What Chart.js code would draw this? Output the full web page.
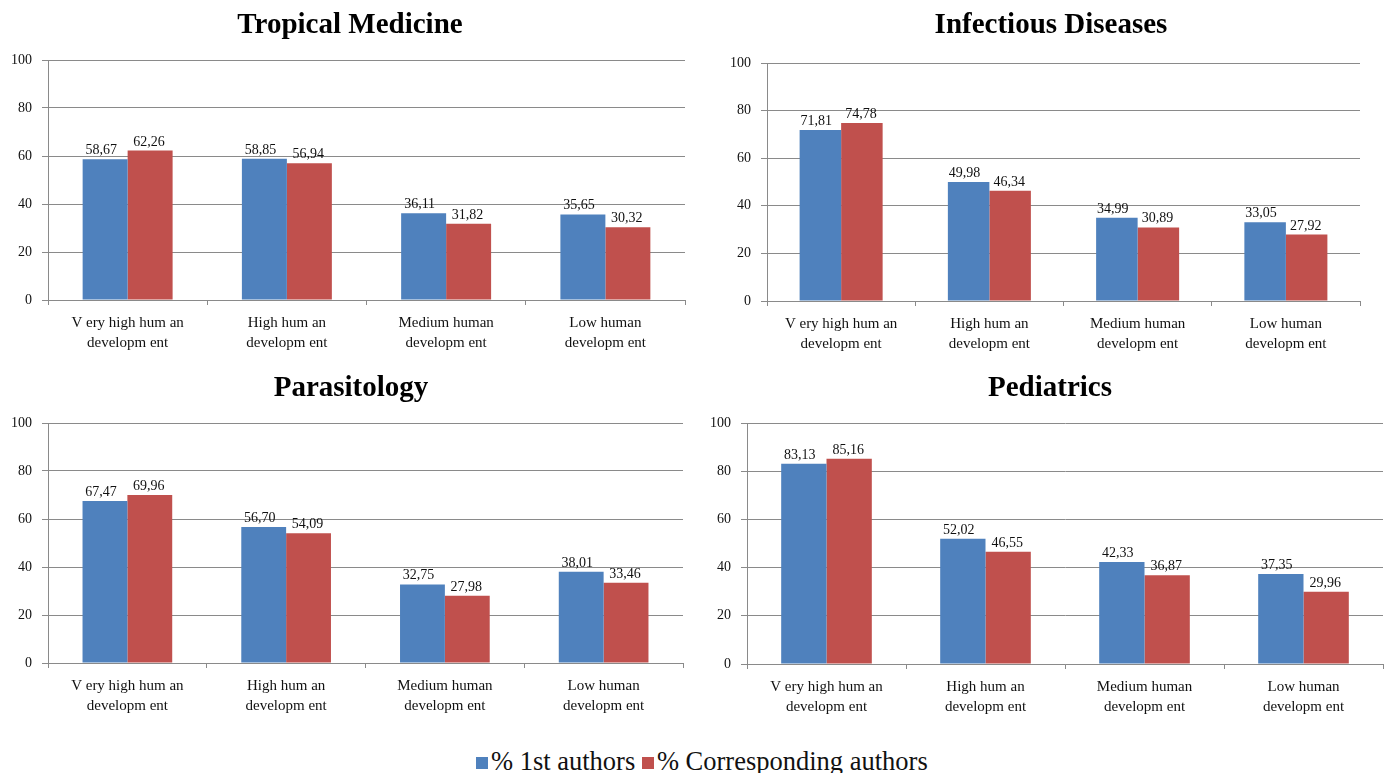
<!DOCTYPE html>
<html>
<head>
<meta charset="utf-8">
<script src="https://cdn.jsdelivr.net/npm/chart.js@4/dist/chart.umd.min.js"></script>
<style>
  html, body { margin: 0; padding: 0; background: #fff; }
  body { width: 1388px; height: 773px; position: relative; overflow: hidden; }
  canvas { position: absolute; }
  #legend { position: absolute; left: 476px; top: 746px; font-family: "Liberation Serif", serif; font-size: 26.5px; line-height: 30px; color: #111; white-space: nowrap; }
  #legend span.sw { display: inline-block; width: 12px; height: 12px; margin-right: 3px; vertical-align: 1px; }
</style>
</head>
<body>
<canvas id="c1"></canvas>
<canvas id="c2"></canvas>
<canvas id="c3"></canvas>
<canvas id="c4"></canvas>
<div id="legend"><span class="sw" style="background:#4F81BD"></span>% 1st authors <span class="sw" style="background:#C0504D"></span>% Corresponding authors</div>
<script>
// ---- data ----
const categories = [
  ['V ery high hum an', 'developm ent'],
  ['High hum an', 'developm ent'],
  ['Medium human', 'developm ent'],
  ['Low human', 'developm ent']
];
const seriesNames = ['% 1st authors', '% Corresponding authors'];
const yTickValues = [0, 20, 40, 60, 80, 100];

const tropicalFirst = [58.67, 58.85, 36.11, 35.65];
const tropicalCorr  = [62.26, 56.94, 31.82, 30.32];
const infectiousFirst = [71.81, 49.98, 34.99, 33.05];
const infectiousCorr  = [74.78, 46.34, 30.89, 27.92];
const parasitFirst = [67.47, 56.70, 32.75, 38.01];
const parasitCorr  = [69.96, 54.09, 27.98, 33.46];
const pediatricsFirst = [83.13, 52.02, 42.33, 37.35];
const pediatricsCorr  = [85.16, 46.55, 36.87, 29.96];

// ---- styling ----
const BLUE = '#4F81BD', RED = '#C0504D', GRID = '#8a8a8a';
const SERIF = '"Liberation Serif", "Times New Roman", serif';

const panelTitle = {
  id: 'panelTitle',
  afterDraw(chart, args, opts) {
    const ctx = chart.ctx;
    ctx.save();
    ctx.font = 'bold 29px ' + SERIF;
    ctx.fillStyle = '#000';
    ctx.textAlign = 'center';
    ctx.textBaseline = 'alphabetic';
    ctx.fillText(opts.text, opts.x, opts.y);
    ctx.restore();
  }
};

const barValues = {
  id: 'barValues',
  afterDatasetsDraw(chart) {
    const ctx = chart.ctx;
    ctx.save();
    ctx.font = '14px ' + SERIF;
    ctx.fillStyle = '#111';
    ctx.textAlign = 'center';
    ctx.textBaseline = 'alphabetic';
    chart.data.datasets.forEach((ds, i) => {
      chart.getDatasetMeta(i).data.forEach((bar, j) => {
        const txt = ds.data[j].toFixed(2).replace('.', ',');
        ctx.fillText(txt, bar.x - (i === 0 ? 4 : 1), bar.y - 5);
      });
    });
    ctx.restore();
  }
};

function makePanel(id, pos, title, first, corr) {
  const cv = document.getElementById(id);
  cv.style.left = pos.left + 'px';
  cv.style.top = pos.top + 'px';
  cv.width = pos.width;
  cv.height = pos.height;
  new Chart(cv, {
    type: 'bar',
    data: {
      labels: categories,
      datasets: [
        { label: seriesNames[0], data: first, backgroundColor: BLUE, borderWidth: 0 },
        { label: seriesNames[1], data: corr, backgroundColor: RED, borderWidth: 0 }
      ]
    },
    options: {
      responsive: false,
      animation: false,
      devicePixelRatio: 1,
      layout: { padding: { left: 0, right: pos.padRight, top: pos.padTop, bottom: 0 } },
      datasets: { bar: { categoryPercentage: pos.catPct, barPercentage: 1 } },
      plugins: {
        legend: { display: false },
        tooltip: { enabled: false },
        title: { display: false },
        panelTitle: { text: title, x: pos.titleX, y: pos.titleY }
      },
      scales: {
        x: {
          afterFit: s => { s.height = 60; },
          grid: { display: true, drawOnChartArea: false, drawTicks: true, tickLength: 5, color: GRID, offset: true },
          border: { display: true, color: GRID, width: 1 },
          ticks: { font: { family: SERIF, size: 15, lineHeight: 1.33 }, color: '#111', padding: 8, maxRotation: 0, autoSkip: false }
        },
        y: {
          min: 0, max: 100,
          afterFit: s => { s.width = pos.yWidth; },
          afterBuildTicks: s => { s.ticks = yTickValues.map(v => ({ value: v })); },
          grid: { color: GRID, lineWidth: 1, drawTicks: true, tickLength: 6 },
          border: { display: true, color: GRID, width: 1 },
          ticks: { font: { family: SERIF, size: 14 }, color: '#111', padding: 10 }
        }
      }
    },
    plugins: [panelTitle, barValues]
  });
}

makePanel('c1', { left: 0, top: 0, width: 695, height: 360, padTop: 60, padRight: 10, yWidth: 48, catPct: 0.565, titleX: 350, titleY: 33 },
  'Tropical Medicine', tropicalFirst, tropicalCorr);
makePanel('c2', { left: 700, top: 0, width: 670, height: 361, padTop: 63, padRight: 10, yWidth: 67, catPct: 0.56, titleX: 351, titleY: 33 },
  'Infectious Diseases', infectiousFirst, infectiousCorr);
makePanel('c3', { left: 0, top: 362, width: 693, height: 361, padTop: 61, padRight: 10, yWidth: 48, catPct: 0.565, titleX: 351, titleY: 34 },
  'Parasitology', parasitFirst, parasitCorr);
makePanel('c4', { left: 700, top: 362, width: 688, height: 362, padTop: 61, padRight: 5, yWidth: 47, catPct: 0.57, titleX: 350, titleY: 34 },
  'Pediatrics', pediatricsFirst, pediatricsCorr);
</script>
</body>
</html>
